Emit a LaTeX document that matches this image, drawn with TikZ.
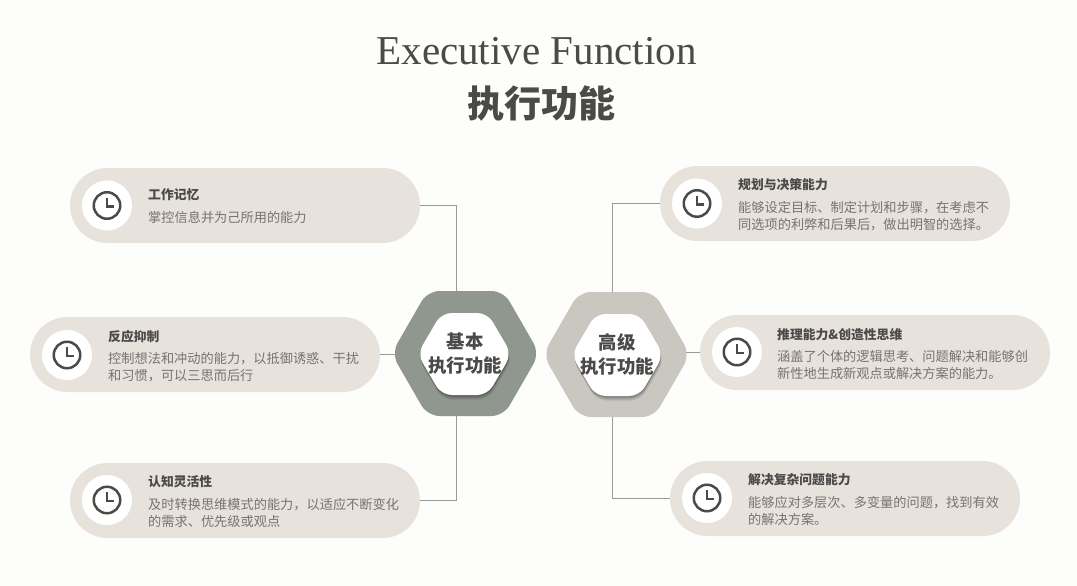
\documentclass[tikz,border=0pt]{standalone}
\usepackage{fontspec}
\newfontfamily\cjk{Noto Sans CJK SC}
\newfontfamily\titlefont{Liberation Serif}
\usetikzlibrary{shapes.misc}
\definecolor{pillc}{HTML}{E8E2DD}
\definecolor{linec}{HTML}{9A9A96}
\definecolor{hexa}{HTML}{8F978F}
\definecolor{hexb}{HTML}{C9C7C0}
\definecolor{inkd}{HTML}{4A4A48}
\definecolor{inkb}{HTML}{77736F}
\definecolor{pagec}{HTML}{FDFDFC}
\tikzset{
  pill/.style={shape=rounded rectangle,rounded rectangle arc length=180,fill=pillc,minimum width=350pt,minimum height=75pt,inner sep=0pt},
  badge/.style={circle,fill=white,minimum size=50pt,inner sep=0pt},
  dial/.style={circle,draw=inkd,line width=2.5pt,minimum size=26.5pt,inner sep=0pt},
  hands/.style={draw=inkd,line width=2.5pt},
  head/.style={anchor=west,inner sep=0pt,text=inkd,font=\cjk\bfseries\fontsize{12.8}{15}\selectfont},
  body/.style={anchor=west,inner sep=0pt,text=inkb,align=left,font=\cjk\fontsize{13.2}{17.5}\selectfont},
  hextext/.style={inner sep=0pt,text=inkd,align=center,font=\cjk\bfseries\fontsize{18.4}{23.5}\selectfont},
  link/.style={draw=linec,line width=1pt},
}
% centre x, centre y, half width, half height, inset
\newcommand{\hexpath}[5]{(#1-#3,#2)--(#1-#3+#5,#2-#4)--(#1+#3-#5,#2-#4)--(#1+#3,#2)--(#1+#3-#5,#2+#4)--(#1-#3+#5,#2+#4)--cycle}
% name, x, y
\newcommand{\clockicon}[3]{%
  \node[badge] (#1b) at (#2,#3) {};
  \node[dial] (#1d) at (#2,#3) {};
  \draw[hands] (#2,#3-8)--(#2,#3+1)--(#2+7,#3+1);
}
\begin{document}
\begin{tikzpicture}[x=1pt,y=-1pt]
\fill[pagec] (0,0) rectangle (1077,586);
\useasboundingbox (0,0) rectangle (1077,586);

\node[inner sep=0pt,text=inkd,font=\titlefont\fontsize{41}{46}\selectfont] (title) at (536.5,51) {Executive Function};
\node[inner sep=0pt,text=inkd,font=\cjk\bfseries\fontsize{37}{40}\selectfont] (subtitle) at (541.5,103.5) {执行功能};

% pills
\node[pill] (L1) at (245,205.5) {};
\node[pill] (L2) at (205,354.5) {};
\node[pill] (L3) at (245,500.5) {};
\node[pill] (R1) at (835,203.5) {};
\node[pill] (R2) at (875,352.5) {};
\node[pill] (R3) at (845,498.5) {};

% connector ends on the hexagons
\coordinate (hLt) at (456,295);
\coordinate (hLl) at (400,354.5);
\coordinate (hLb) at (456,412);
\coordinate (hRt) at (612,296);
\coordinate (hRr) at (682,352.5);
\coordinate (hRb) at (612,413);

\path[link] (L1.east) -| (hLt);
\path[link] (L2.east) -- (hLl);
\path[link] (L3.east) -| (hLb);
\path[link] (R1.west) -| (hRt);
\path[link] (R2.west) -- (hRr);
\path[link] (R3.west) -| (hRb);

% hexagons
\fill[hexa,rounded corners=12pt] \hexpath{465.5}{353.5}{74}{62.5}{36};
\foreach \d/\o in {5/.05,4/.07,3/.08,2/.1,1/.12}
  \fill[black,opacity=\o,rounded corners=10pt] \hexpath{464.5}{354+\d}{47+\d*.2}{41}{24};
\fill[white,rounded corners=10pt] \hexpath{464.5}{354}{47}{41}{24};
\fill[hexb,rounded corners=12pt] \hexpath{616.5}{354.5}{73.5}{62.5}{36};
\foreach \d/\o in {5/.05,4/.07,3/.08,2/.1,1/.12}
  \fill[black,opacity=\o,rounded corners=10pt] \hexpath{617.5}{355+\d}{46+\d*.2}{41}{24};
\fill[white,rounded corners=10pt] \hexpath{617.5}{355}{46}{41}{24};

\node[hextext] (hexL) at (465,353.5) {基本\\执行功能};
\node[hextext] (hexR) at (617,354.5) {高级\\执行功能};

% icons
\clockicon{cL1}{107}{205.5}
\clockicon{cL2}{67}{355}
\clockicon{cL3}{107}{500}
\clockicon{cR1}{697}{203.5}
\clockicon{cR2}{737}{352}
\clockicon{cR3}{707}{498}

% texts
\node[head] (tL1) at (148,194.5) {工作记忆};
\node[body] (bL1) at (148,217) {掌控信息并为己所用的能力};
\node[head] (tL2) at (108,336.5) {反应抑制};
\node[body] (bL2) at (108,367) {控制想法和冲动的能力，以抵御诱惑、干扰\\和习惯，可以三思而后行};
\node[head] (tL3) at (148,481.5) {认知灵活性};
\node[body] (bL3) at (148,513) {及时转换思维模式的能力，以适应不断变化\\的需求、优先级或观点};
\node[head] (tR1) at (738,184.5) {规划与决策能力};
\node[body] (bR1) at (738,216) {能够设定目标、制定计划和步骤，在考虑不\\同选项的利弊和后果后，做出明智的选择。};
\node[head] (tR2) at (777,334.5) {推理能力\&创造性思维};
\node[body] (bR2) at (777,365) {涵盖了个体的逻辑思考、问题解决和能够创\\新性地生成新观点或解决方案的能力。};
\node[head] (tR3) at (748,479.5) {解决复杂问题能力};
\node[body] (bR3) at (748,511) {能够应对多层次、多变量的问题，找到有效\\的解决方案。};
\end{tikzpicture}
\end{document}
